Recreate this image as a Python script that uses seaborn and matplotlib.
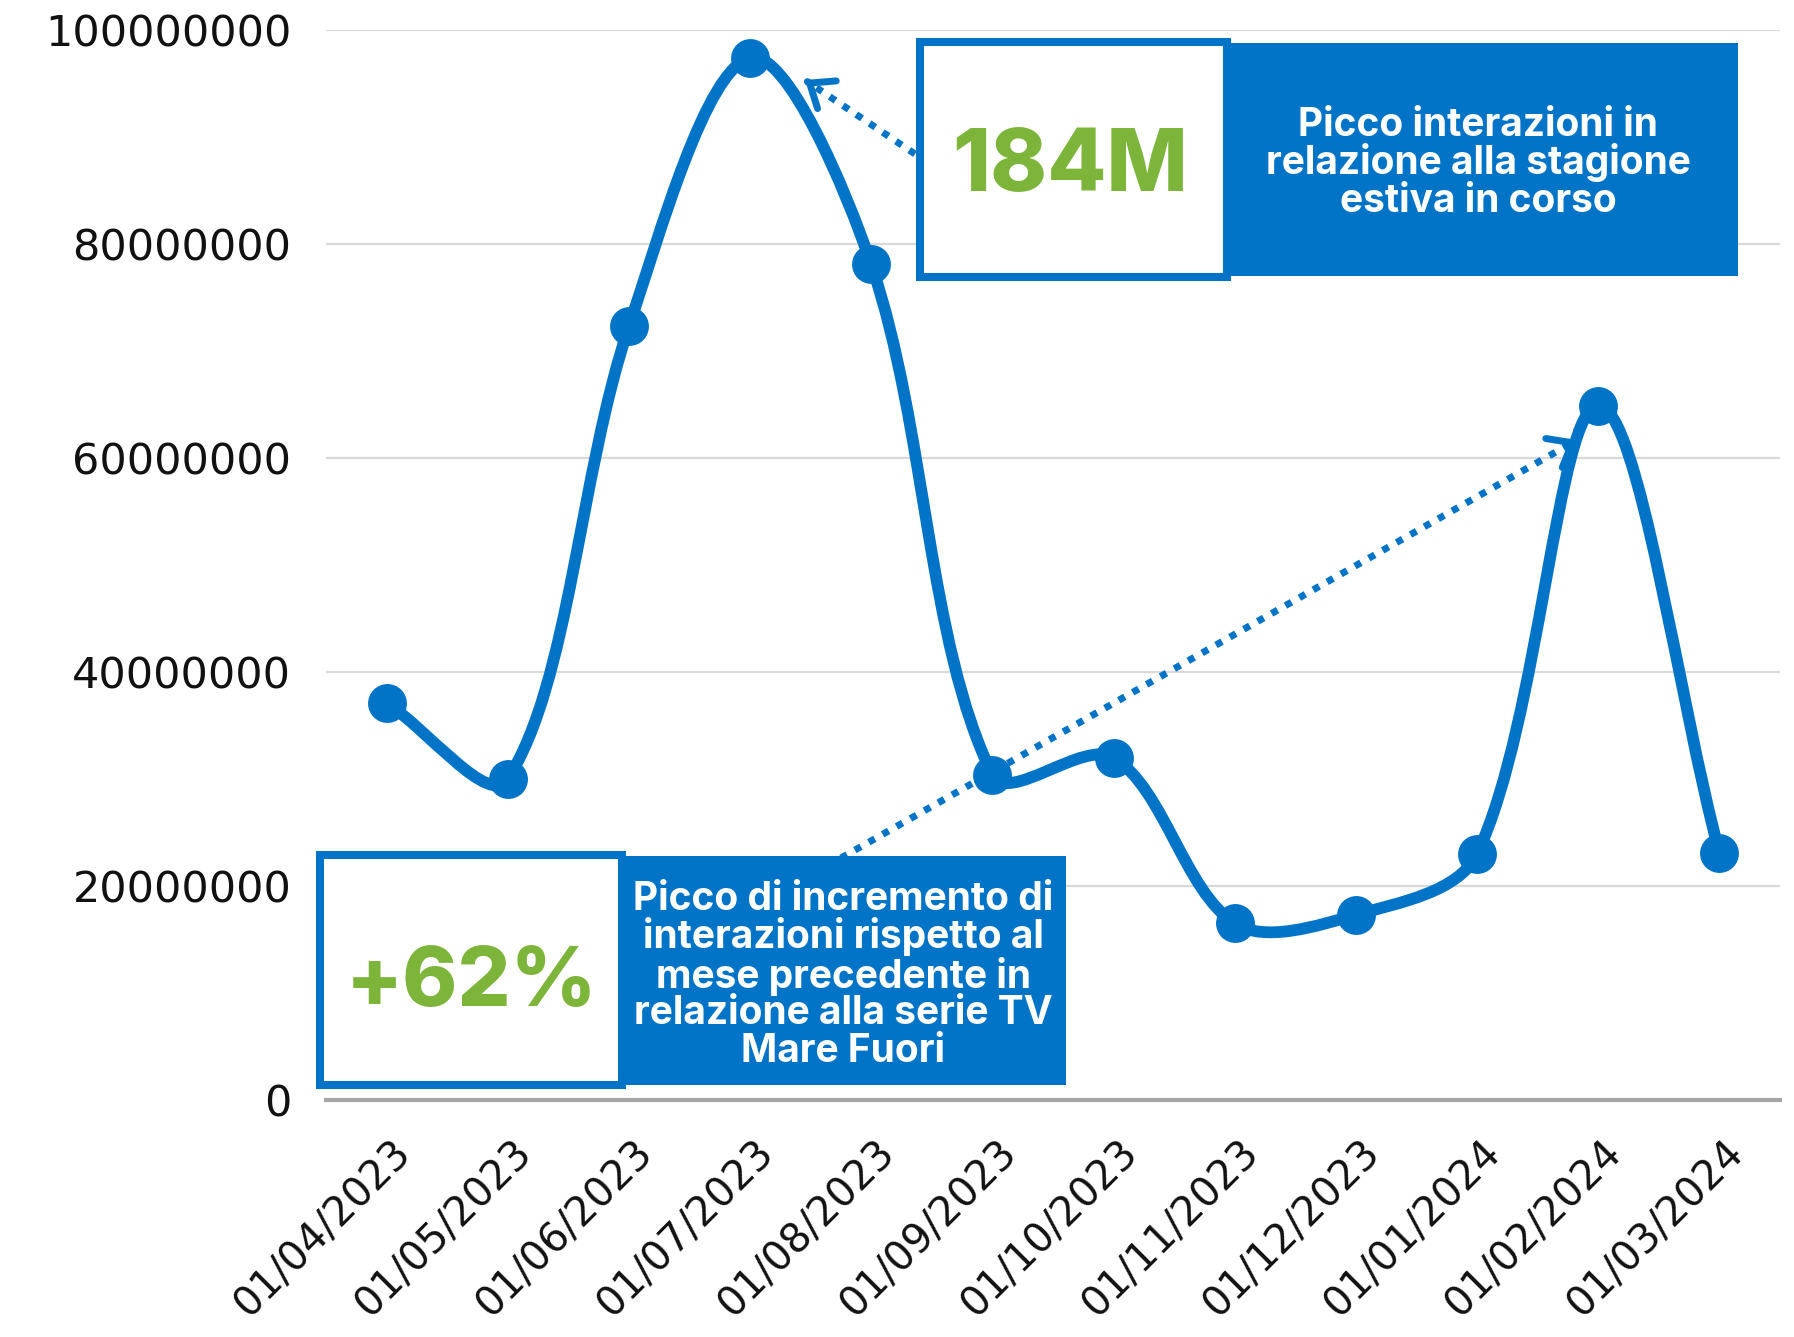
import numpy as np
import pandas as pd
import matplotlib
matplotlib.use("Agg")
import matplotlib.pyplot as plt
import matplotlib.transforms as mtransforms
import seaborn as sns
from matplotlib.path import Path
from matplotlib.patches import PathPatch, Rectangle

# ── Data ──────────────────────────────────────────────────────────────────────
months = ["01/04/2023", "01/05/2023", "01/06/2023", "01/07/2023",
          "01/08/2023", "01/09/2023", "01/10/2023", "01/11/2023",
          "01/12/2023", "01/01/2024", "01/02/2024", "01/03/2024"]
interactions = [37.1e6, 30.0e6, 72.3e6, 97.4e6, 78.1e6, 30.4e6,
                32.0e6, 16.5e6, 17.3e6, 23.0e6, 64.9e6, 23.1e6]
y_ticks = [0, 20000000, 40000000, 60000000, 80000000, 100000000]

box1_big = "184M"
box1_text = "Picco interazioni in\nrelazione alla stagione\nestiva in corso"
box2_big = "+62%"
box2_text = ("Picco di incremento di\ninterazioni rispetto al\nmese precedente in\n"
             "relazione alla serie TV\nMare Fuori")

BLUE = "#0274c8"
GREEN = "#7cb53a"

sns.set_theme(style="white")
plt.rcParams["font.family"] = ["DejaVu Sans"]

df = pd.DataFrame({"pos": np.arange(len(months)), "month": months, "value": interactions})

W, H = 1794, 1337
fig = plt.figure(figsize=(W / 100, H / 100), dpi=100)
ax = fig.add_axes([326 / W, 1 - 1100 / H, 1454 / W, 1070 / H])
ax.set_xlim(-0.5, 11.5)
ax.set_ylim(0, 1e8)


def smooth_path(x, y, k=1 / 3):
    # bezier through the points, tangents scaled by segment length (measured on screen)
    pts = np.column_stack([x, y]).astype(float)
    scr = ax.transData.transform(pts)
    padded = np.vstack([pts[0], pts, pts[-1]])
    pscr = np.vstack([scr[0], scr, scr[-1]])
    verts, codes = [pts[0]], [Path.MOVETO]
    for i in range(1, len(padded) - 2):
        p0, p1, p2, p3 = padded[i - 1:i + 3]
        s0, s1, s2, s3 = pscr[i - 1:i + 3]
        d01 = np.linalg.norm(s1 - s0)
        d12 = np.linalg.norm(s2 - s1)
        d23 = np.linalg.norm(s3 - s2)
        f1 = d12 / (d01 + d12) if d01 + d12 > 0 else 0
        f2 = d12 / (d12 + d23) if d12 + d23 > 0 else 0
        verts += [p1 + (p2 - p0) * k * f1, p2 - (p3 - p1) * k * f2, p2]
        codes += [Path.CURVE4] * 3
    return Path(verts, codes)


ax.add_patch(PathPatch(smooth_path(df["pos"], df["value"]), facecolor="none",
                       edgecolor=BLUE, lw=8.5, capstyle="round", joinstyle="round",
                       clip_on=False, zorder=3))
sns.scatterplot(data=df, x="pos", y="value", s=28 ** 2, color=BLUE, linewidth=0,
                ax=ax, clip_on=False, zorder=4, legend=False)

ax.set_yticks(y_ticks)
ax.set_yticklabels([str(v) for v in y_ticks])
ax.set_xticks(df["pos"])
ax.set_xticklabels(months, rotation=45, ha="right", va="center", rotation_mode="anchor")
ax.set_xlabel("")
ax.set_ylabel("")
ax.set_axisbelow(True)
ax.yaxis.grid(True, color="#d9d9d9", lw=1.6)
ax.xaxis.grid(False)
ax.tick_params(axis="y", length=0, labelsize=31, pad=25, labelcolor="#111111")
ax.tick_params(axis="x", length=0, labelsize=29, pad=34, labelcolor="#111111")
shift = mtransforms.ScaledTranslation(18 / 100, 0, fig.dpi_scale_trans)
for lab in ax.get_xticklabels():
    lab.set_transform(lab.get_transform() + shift)
for s in ["top", "right", "left"]:
    ax.spines[s].set_visible(False)
ax.spines["bottom"].set_color("#a6a6a6")
ax.spines["bottom"].set_linewidth(3)


# ── Annotation boxes (figure pixel coords, origin top-left) ───────────────────
def fx(x):
    return x / W


def fy(y):
    return 1 - y / H


def rect(x0, y0, x1, y1, **kw):
    fig.add_artist(Rectangle((fx(x0), fy(y1)), (x1 - x0) / W, (y1 - y0) / H,
                             transform=fig.transFigure, **kw))


def dotted_arrow(start, tip):
    ax.annotate("", xy=(fx(tip[0]), fy(tip[1])), xytext=(fx(start[0]), fy(start[1])),
                xycoords="figure fraction", textcoords="figure fraction",
                arrowprops=dict(arrowstyle="-", linestyle=(0, (1.0, 1.3)), lw=5,
                                capstyle="butt", color=BLUE, shrinkA=0, shrinkB=6),
                zorder=5)
    d = np.array(tip, float) - np.array(start, float)
    d = d / np.linalg.norm(d) * 3
    ax.annotate("", xy=(fx(tip[0]), fy(tip[1])),
                xytext=(fx(tip[0] - d[0]), fy(tip[1] - d[1])),
                xycoords="figure fraction", textcoords="figure fraction",
                arrowprops=dict(arrowstyle="->,head_length=0.5,head_width=0.4",
                                mutation_scale=30, lw=5, color=BLUE,
                                capstyle="round", joinstyle="round",
                                shrinkA=0, shrinkB=0), zorder=5)


dotted_arrow((915, 154), (805, 80))
dotted_arrow((841, 858), (1577, 440))

TXT_FONT = ["Inter", "DejaVu Sans"]

rect(1222, 43, 1738, 276, facecolor=BLUE, edgecolor="none", zorder=6)
rect(920, 42, 1227, 277, facecolor="white", edgecolor=BLUE, lw=5.8, zorder=7)
fig.text(fx(1070), fy(169), box1_big, color=GREEN, fontsize=62, fontweight=800,
         family=TXT_FONT, ha="center", va="center", zorder=8)
fig.text(fx(1478), fy(163), box1_text, color="white", fontsize=28, fontweight="bold",
         family=TXT_FONT, ha="center", va="center", linespacing=1.0,
         multialignment="center", zorder=8)

rect(625, 856, 1066, 1085, facecolor=BLUE, edgecolor="none", zorder=6)
rect(320, 855, 622, 1085, facecolor="white", edgecolor=BLUE, lw=5.8, zorder=7)
fig.text(fx(471), fy(984), box2_big, color=GREEN, fontsize=60, fontweight=800,
         family=TXT_FONT, ha="center", va="center", zorder=8)
fig.text(fx(843), fy(975), box2_text, color="white", fontsize=28, fontweight="bold",
         family=TXT_FONT, ha="center", va="center", linespacing=1.0,
         multialignment="center", zorder=8)

fig.savefig("out.png", dpi=100)
